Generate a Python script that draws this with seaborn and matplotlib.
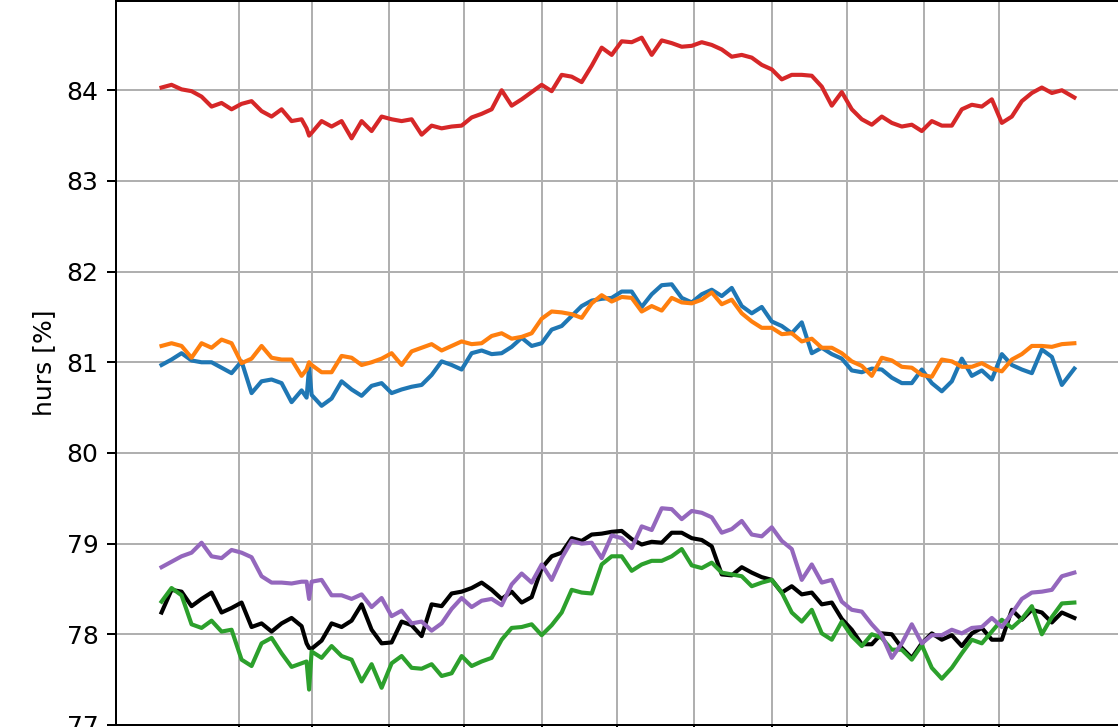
import matplotlib
matplotlib.use("Agg")
import matplotlib.pyplot as plt
import seaborn as sns

# day of year (0-based, leap-year calendar)
days = [0, 4, 8, 12, 16, 20, 24, 28, 32, 36, 40, 44, 48, 52, 56, 58, 59,
        60, 64, 68, 72, 76, 80, 84, 88, 92, 96, 100, 104, 108, 112, 116,
        120, 124, 128, 132, 136, 140, 144, 148, 152, 156, 160, 164, 168, 172, 176,
        180, 184, 188, 192, 196, 200, 204, 208, 212, 216, 220, 224, 228, 232, 236,
        240, 244, 248, 252, 256, 260, 264, 268, 272, 276, 280, 284, 288, 292, 296,
        300, 304, 308, 312, 316, 320, 324, 328, 332, 336, 340, 344, 348, 352, 356,
        360, 365]

red = [84.03, 84.06, 84.01, 83.99, 83.93, 83.82, 83.86, 83.79, 83.85, 83.88, 83.77, 83.71, 83.79, 83.66, 83.68, 83.58, 83.50,
       83.53, 83.66, 83.60, 83.66, 83.47, 83.66, 83.55, 83.71, 83.68, 83.66, 83.68, 83.51, 83.61, 83.58, 83.60,
       83.61, 83.70, 83.74, 83.79, 84.00, 83.83, 83.90, 83.98, 84.06, 83.99, 84.17, 84.15, 84.09, 84.27, 84.47,
       84.39, 84.54, 84.53, 84.58, 84.39, 84.55, 84.52, 84.48, 84.49, 84.53, 84.50, 84.45, 84.37, 84.39, 84.36,
       84.28, 84.23, 84.12, 84.17, 84.17, 84.16, 84.04, 83.83, 83.98, 83.79, 83.68, 83.62, 83.71, 83.64, 83.60,
       83.62, 83.55, 83.66, 83.61, 83.61, 83.79, 83.84, 83.82, 83.90, 83.64, 83.71, 83.88, 83.97, 84.03, 83.97,
       84.00, 83.92]

blue = [80.97, 81.03, 81.10, 81.02, 81.00, 81.00, 80.94, 80.88, 81.01, 80.66, 80.79, 80.81, 80.77, 80.56, 80.69, 80.61, 80.94,
        80.64, 80.52, 80.60, 80.79, 80.70, 80.63, 80.74, 80.77, 80.66, 80.70, 80.73, 80.75, 80.86, 81.01, 80.97,
        80.92, 81.10, 81.13, 81.09, 81.10, 81.17, 81.27, 81.18, 81.21, 81.36, 81.40, 81.51, 81.62, 81.68, 81.70,
        81.71, 81.78, 81.78, 81.61, 81.75, 81.85, 81.86, 81.71, 81.66, 81.75, 81.80, 81.73, 81.82, 81.62, 81.54,
        81.61, 81.45, 81.40, 81.32, 81.44, 81.10, 81.16, 81.09, 81.04, 80.91, 80.89, 80.93, 80.92, 80.83, 80.77,
        80.77, 80.92, 80.77, 80.68, 80.79, 81.04, 80.85, 80.91, 80.81, 81.09, 80.97, 80.92, 80.88, 81.14, 81.06,
        80.75, 80.93]

orange = [81.18, 81.21, 81.18, 81.05, 81.21, 81.16, 81.25, 81.21, 80.99, 81.04, 81.18, 81.05, 81.03, 81.03, 80.85, 80.92, 81.00,
          80.97, 80.89, 80.89, 81.07, 81.05, 80.97, 81.00, 81.04, 81.10, 80.97, 81.12, 81.16, 81.20, 81.13, 81.18,
          81.23, 81.20, 81.21, 81.29, 81.32, 81.26, 81.28, 81.32, 81.48, 81.56, 81.55, 81.53, 81.49, 81.65, 81.74,
          81.67, 81.72, 81.71, 81.56, 81.62, 81.57, 81.71, 81.66, 81.65, 81.69, 81.77, 81.64, 81.69, 81.54, 81.45,
          81.38, 81.38, 81.31, 81.32, 81.23, 81.26, 81.16, 81.16, 81.10, 81.01, 80.96, 80.85, 81.05, 81.02, 80.95,
          80.94, 80.86, 80.84, 81.03, 81.01, 80.95, 80.95, 80.99, 80.93, 80.90, 81.03, 81.09, 81.18, 81.18, 81.17,
          81.20, 81.21]

purple = [78.74, 78.80, 78.86, 78.90, 79.01, 78.86, 78.84, 78.93, 78.90, 78.85, 78.64, 78.57, 78.57, 78.56, 78.58, 78.58, 78.39,
          78.58, 78.60, 78.43, 78.43, 78.39, 78.44, 78.30, 78.40, 78.20, 78.26, 78.12, 78.14, 78.04, 78.12, 78.28,
          78.40, 78.30, 78.37, 78.39, 78.32, 78.55, 78.67, 78.57, 78.77, 78.60, 78.84, 79.03, 79.00, 79.01, 78.84,
          79.09, 79.06, 78.95, 79.19, 79.15, 79.39, 79.38, 79.27, 79.36, 79.34, 79.29, 79.12, 79.16, 79.25, 79.10,
          79.08, 79.18, 79.03, 78.94, 78.60, 78.77, 78.57, 78.60, 78.36, 78.27, 78.25, 78.11, 77.99, 77.74, 77.90,
          78.11, 77.90, 77.99, 77.99, 78.05, 78.01, 78.07, 78.08, 78.18, 78.08, 78.23, 78.39, 78.46, 78.47, 78.49,
          78.64, 78.68]

black = [78.24, 78.49, 78.47, 78.31, 78.39, 78.46, 78.24, 78.29, 78.35, 78.08, 78.12, 78.03, 78.12, 78.18, 78.09, 77.90, 77.85,
         77.84, 77.93, 78.12, 78.08, 78.15, 78.33, 78.05, 77.90, 77.91, 78.14, 78.10, 77.98, 78.33, 78.31, 78.45,
         78.47, 78.51, 78.57, 78.49, 78.39, 78.47, 78.35, 78.41, 78.73, 78.86, 78.90, 79.06, 79.03, 79.10, 79.11,
         79.13, 79.14, 79.05, 78.99, 79.02, 79.01, 79.12, 79.12, 79.06, 79.04, 78.97, 78.66, 78.65, 78.74, 78.68,
         78.63, 78.60, 78.46, 78.53, 78.44, 78.46, 78.33, 78.35, 78.17, 78.05, 77.89, 77.89, 78.01, 78.00, 77.85,
         77.74, 77.90, 78.01, 77.94, 77.99, 77.87, 78.01, 78.07, 77.94, 77.94, 78.27, 78.16, 78.27, 78.24, 78.13,
         78.24, 78.18]

green = [78.36, 78.51, 78.43, 78.11, 78.07, 78.15, 78.03, 78.05, 77.72, 77.65, 77.90, 77.96, 77.79, 77.64, 77.68, 77.70, 77.39,
         77.81, 77.74, 77.87, 77.76, 77.72, 77.48, 77.67, 77.41, 77.68, 77.76, 77.63, 77.62, 77.67, 77.54, 77.57,
         77.76, 77.65, 77.70, 77.74, 77.94, 78.07, 78.08, 78.11, 77.99, 78.10, 78.24, 78.49, 78.46, 78.45, 78.77,
         78.86, 78.86, 78.70, 78.77, 78.81, 78.81, 78.86, 78.94, 78.76, 78.73, 78.79, 78.68, 78.66, 78.64, 78.53,
         78.57, 78.60, 78.46, 78.24, 78.14, 78.27, 78.01, 77.94, 78.14, 77.98, 77.87, 78.00, 77.96, 77.83, 77.83,
         77.72, 77.88, 77.63, 77.51, 77.63, 77.79, 77.94, 77.90, 78.03, 78.16, 78.07, 78.17, 78.31, 78.00, 78.19,
         78.34, 78.35]

month_starts = [31, 60, 91, 121, 152, 182, 213, 244, 274, 305, 335]
y_label = "hurs [%]"

series = [(black, "black"), (blue, "#1f77b4"), (orange, "#ff7f0e"),
          (green, "#2ca02c"), (red, "#d62728"), (purple, "#9467bd")]
for vals, _ in series:
    assert len(vals) == len(days), len(vals)

DPI = 180
fig = plt.figure(figsize=(1118 / DPI, 727 / DPI), dpi=DPI)
ax = fig.add_axes([115.9 / 1118, 1.6 / 727, 1004.1 / 1118, 724.9 / 727])

for vals, col in series:
    sns.lineplot(x=days, y=vals, color=col, linewidth=1.65, ax=ax)

ax.set_xlim(-18.25, 383.25)
ax.set_ylim(76.995, 84.99)
ax.set_yticks([77, 78, 79, 80, 81, 82, 83, 84])
ax.set_xticks(month_starts)
ax.tick_params(axis="x", labelbottom=False)
ax.grid(True, color="#b0b0b0", linewidth=0.8)
ax.set_axisbelow(True)
ax.set_ylabel(y_label)
ax.set_xlabel("")

fig.savefig("out.png", dpi=DPI)
